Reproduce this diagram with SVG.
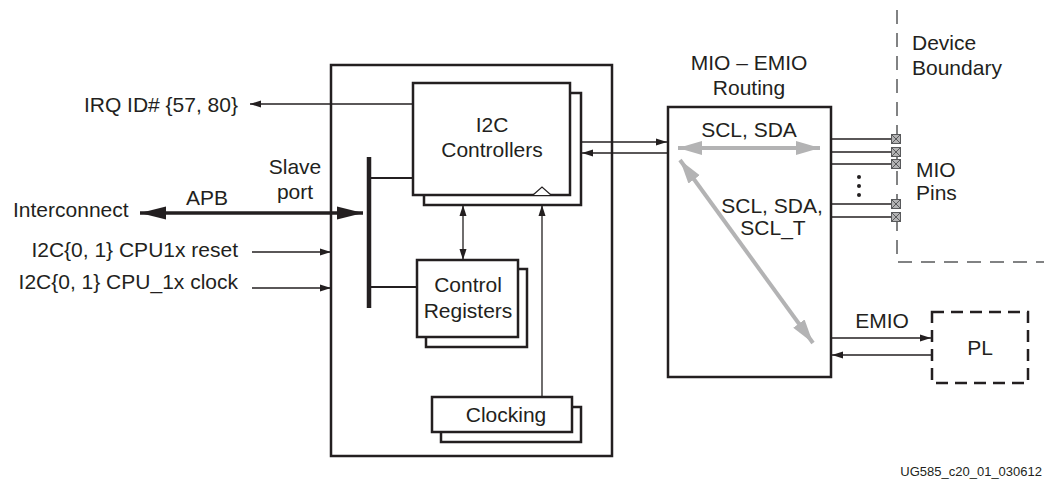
<svg xmlns="http://www.w3.org/2000/svg" width="1044" height="479" viewBox="0 0 1044 479">
<style>
text{font-family:"Liberation Sans",Arial,Helvetica,sans-serif;font-size:21px;fill:#231f20}
.box{fill:#fff;stroke:#231f20;stroke-width:2.5}
.thin{fill:none;stroke:#231f20;stroke-width:1.3}
.gray{fill:none;stroke:#b3b3b4;stroke-width:4}
.dash{fill:none;stroke:#58595b;stroke-width:1.5;stroke-dasharray:14 9}
.mid{text-anchor:middle}
.end{text-anchor:end}
</style>
<defs>
<marker id="a" markerUnits="userSpaceOnUse" markerWidth="11" markerHeight="8" refX="11" refY="4" orient="auto-start-reverse"><path d="M0,0.5 L11,4 L0,7.5 z" fill="#231f20"/></marker>
<marker id="big" markerUnits="userSpaceOnUse" markerWidth="26" markerHeight="14" refX="26" refY="7" orient="auto-start-reverse"><path d="M0,0.5 L26,7 L0,13.5 z" fill="#231f20"/></marker>
<marker id="g" markerUnits="userSpaceOnUse" markerWidth="24" markerHeight="15" refX="24" refY="7.5" orient="auto-start-reverse"><path d="M0,0.5 L24,7.5 L0,14.5 z" fill="#b3b3b4"/></marker>
<g id="pin"><rect x="-4.5" y="-4.5" width="9" height="9" fill="#b3b3b4" stroke="#58595b" stroke-width="1"/><path d="M-4.5,-4.5 L4.5,4.5 M4.5,-4.5 L-4.5,4.5" stroke="#58595b" stroke-width="1"/></g>
</defs>

<g id="main-block"><rect class="box" x="331" y="65" width="281" height="391"/></g>

<g id="i2c-controllers">
<rect class="box" x="424" y="93" width="157" height="112"/>
<rect class="box" x="413" y="83" width="157" height="112"/>
<path d="M533,195 L542,187 L551,195" fill="#fff" stroke="#231f20" stroke-width="1.2"/>
<text class="mid" x="492" y="132">I2C</text>
<text class="mid" x="492" y="157">Controllers</text>
</g>

<g id="control-registers">
<rect class="box" x="426" y="269" width="101" height="78"/>
<rect class="box" x="417" y="260" width="101" height="77"/>
<text class="mid" x="468" y="292">Control</text>
<text class="mid" x="468" y="318">Registers</text>
</g>

<g id="clocking">
<rect class="box" x="441" y="407" width="140" height="35"/>
<rect class="box" x="432" y="397" width="140" height="35"/>
<text class="mid" x="506" y="422">Clocking</text>
</g>

<g id="slave-bus">
<line x1="369" y1="157" x2="369" y2="308" stroke="#231f20" stroke-width="4.5"/>
<line x1="369" y1="178" x2="413" y2="178" stroke="#231f20" stroke-width="2.2"/>
<line x1="369" y1="287" x2="417" y2="287" stroke="#231f20" stroke-width="2.2"/>
<text class="mid" x="295" y="174">Slave</text>
<text class="mid" x="295" y="199">port</text>
</g>

<g id="mio-emio">
<rect class="box" x="668" y="107" width="163" height="270"/>
<text class="mid" x="749" y="70">MIO – EMIO</text>
<text class="mid" x="749" y="95">Routing</text>
<text class="mid" x="749" y="137">SCL, SDA</text>
<text class="mid" x="772" y="213">SCL, SDA,</text>
<text class="mid" x="773" y="235">SCL_T</text>
</g>

<g id="device-boundary">
<path class="dash" d="M897,10 L897,262 L1044,262"/>
<text x="912" y="50">Device</text>
<text x="912" y="75">Boundary</text>
</g>

<g id="mio-pins">
<use href="#pin" x="896" y="139"/>
<use href="#pin" x="896" y="152"/>
<use href="#pin" x="896" y="164"/>
<use href="#pin" x="896" y="204"/>
<use href="#pin" x="896" y="217"/>
<circle cx="859" cy="177" r="2" fill="#231f20"/>
<circle cx="859" cy="186" r="2" fill="#231f20"/>
<circle cx="859" cy="195" r="2" fill="#231f20"/>
<text x="916" y="177">MIO</text>
<text x="916" y="200">Pins</text>
</g>

<g id="pl">
<rect x="932" y="312" width="96" height="71" fill="#fff" stroke="#231f20" stroke-width="2.5" stroke-dasharray="12 7"/>
<text class="mid" x="980" y="355">PL</text>
</g>

<g id="connectors">
<line class="thin" x1="413" y1="104" x2="250" y2="104" marker-end="url(#a)"/>
<line x1="140" y1="213" x2="363" y2="213" stroke="#231f20" stroke-width="3.5" marker-start="url(#big)" marker-end="url(#big)"/>
<line class="thin" x1="252" y1="252" x2="331" y2="252" marker-end="url(#a)"/>
<line class="thin" x1="252" y1="288" x2="331" y2="288" marker-end="url(#a)"/>
<line class="thin" x1="463" y1="205" x2="463" y2="260" marker-start="url(#a)" marker-end="url(#a)"/>
<line class="thin" x1="542" y1="397" x2="542" y2="205" marker-end="url(#a)"/>
<line class="thin" x1="581" y1="142" x2="667" y2="142" marker-end="url(#a)"/>
<line class="thin" x1="667" y1="153" x2="582" y2="153" marker-end="url(#a)"/>
<line class="gray" x1="678" y1="148" x2="820" y2="148" marker-start="url(#g)" marker-end="url(#g)"/>
<line class="gray" x1="680" y1="160" x2="813" y2="343" marker-start="url(#g)" marker-end="url(#g)"/>
<line class="thin" x1="831" y1="139" x2="891" y2="139"/>
<line class="thin" x1="831" y1="152" x2="891" y2="152"/>
<line class="thin" x1="831" y1="164" x2="891" y2="164"/>
<line class="thin" x1="831" y1="204" x2="891" y2="204"/>
<line class="thin" x1="831" y1="217" x2="891" y2="217"/>
<line class="thin" x1="831" y1="338" x2="931" y2="338" marker-end="url(#a)"/>
<line class="thin" x1="932" y1="355" x2="832" y2="355" marker-end="url(#a)"/>
</g>

<g id="labels">
<text class="end" x="238" y="112">IRQ ID# {57, 80}</text>
<text x="13" y="217">Interconnect</text>
<text class="mid" x="207" y="205">APB</text>
<text class="end" x="238" y="257">I2C{0, 1} CPU1x reset</text>
<text class="end" x="238" y="289">I2C{0, 1} CPU_1x clock</text>
<text class="mid" x="882" y="328">EMIO</text>
<text x="1042" y="476" style="font-size:13px;text-anchor:end">UG585_c20_01_030612</text>
</g>
</svg>
